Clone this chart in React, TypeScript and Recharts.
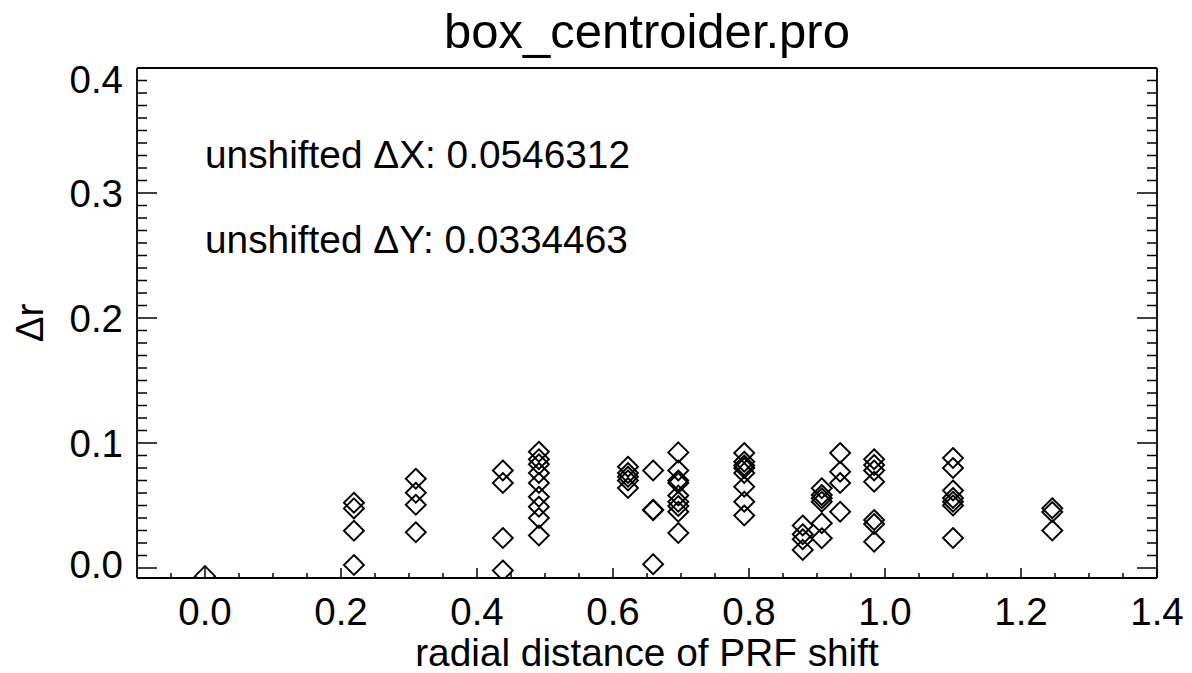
import React from 'react';
import { ScatterChart, Scatter, XAxis, YAxis } from 'recharts';

const FONT = '"Liberation Sans", Arial, Helvetica, sans-serif';

// ---- text ----
const titleText = 'box_centroider.pro';
const xTitle = 'radial distance of PRF shift';
const yTitle = 'Δr';
const noteLines = ['unshifted ΔX: 0.0546312', 'unshifted ΔY: 0.0334463'];

// ---- ticks ----
const xDomain = [-0.1, 1.4];
const yDomain = [-0.008, 0.4];
const xMajorStep = 0.2;
const yMajorStep = 0.1;
const xTicks = [
  -0.05, 0.0, 0.05, 0.1, 0.15, 0.2, 0.25, 0.3, 0.35, 0.4, 0.45, 0.5, 0.55, 0.6, 0.65,
  0.7, 0.75, 0.8, 0.85, 0.9, 0.95, 1.0, 1.05, 1.1, 1.15, 1.2, 1.25, 1.3, 1.35, 1.4,
];
const yTicks = [
  0.0, 0.01, 0.02, 0.03, 0.04, 0.05, 0.06, 0.07, 0.08, 0.09, 0.1, 0.11, 0.12, 0.13,
  0.14, 0.15, 0.16, 0.17, 0.18, 0.19, 0.2, 0.21, 0.22, 0.23, 0.24, 0.25, 0.26, 0.27,
  0.28, 0.29, 0.3, 0.31, 0.32, 0.33, 0.34, 0.35, 0.36, 0.37, 0.38, 0.39, 0.4,
];

// ---- data: radial distance of PRF shift, and delta r values at each distance ----
const shiftDistance = [
  0.0, 0.219, 0.31, 0.438, 0.491, 0.622, 0.659, 0.696, 0.793, 0.879, 0.907, 0.934,
  0.984, 1.1, 1.246,
];
const dr00 = [-0.0065];
const dr01 = [0.0522, 0.0477, 0.0298, 0.0024];
const dr02 = [0.0714, 0.0602, 0.0506, 0.0286];
const dr03 = [0.078, 0.068, 0.024, -0.002];
const dr04 = [0.093, 0.087, 0.083, 0.076, 0.068, 0.057, 0.049, 0.04, 0.026];
const dr05 = [0.081, 0.076, 0.073, 0.07, 0.064];
const dr06 = [0.078, 0.0466, 0.0462, 0.003];
const dr07 = [0.0925, 0.078, 0.07, 0.068, 0.058, 0.053, 0.0496, 0.045, 0.028];
const dr08 = [0.092, 0.085, 0.082, 0.08, 0.076, 0.065, 0.053, 0.042];
const dr09 = [0.034, 0.027, 0.023, 0.0145];
const dr10 = [0.0638, 0.0584, 0.0558, 0.053, 0.0358, 0.0238];
const dr11 = [0.092, 0.077, 0.068, 0.045];
const dr12 = [0.087, 0.0824, 0.078, 0.069, 0.0384, 0.0352, 0.021];
const dr13 = [0.088, 0.08, 0.062, 0.056, 0.053, 0.05, 0.024];
const dr14 = [0.0478, 0.0448, 0.03];

const deltaR = [dr00, dr01, dr02, dr03, dr04, dr05, dr06, dr07, dr08, dr09, dr10, dr11, dr12, dr13, dr14];

const points = shiftDistance.flatMap((x, i) => deltaR[i].map((y) => ({ x, y })));

const isMajor = (v: number, step: number) => Math.abs(v / step - Math.round(v / step)) < 1e-6;

const STROKE = '#000';

function BottomTick(props: any) {
  const { x, y, payload } = props;
  const v = payload.value as number;
  const major = isMajor(v, xMajorStep);
  return (
    <g>
      <line x1={x} y1={y} x2={x} y2={y - (major ? 10 : 5)} stroke={STROKE} strokeWidth={1.5} />
      {major && (
        <text x={x} y={y + 47} textAnchor="middle" fontSize={38.5} fontFamily={FONT} fill="#000">
          {v.toFixed(1)}
        </text>
      )}
    </g>
  );
}

function TopTick(props: any) {
  const { x, y, payload } = props;
  const v = payload.value as number;
  const major = isMajor(v, xMajorStep);
  return <line x1={x} y1={y} x2={x} y2={y + (major ? 10 : 5)} stroke={STROKE} strokeWidth={1.5} />;
}

function LeftTick(props: any) {
  const { x, y, payload } = props;
  const v = payload.value as number;
  const major = isMajor(v, yMajorStep);
  let dy = 13.5;
  if (Math.abs(v - 0.4) < 1e-9) dy = 25;
  if (Math.abs(v) < 1e-9) dy = 9.5;
  return (
    <g>
      <line x1={x} y1={y} x2={x + (major ? 20 : 10)} y2={y} stroke={STROKE} strokeWidth={1.5} />
      {major && (
        <text x={x - 14} y={y + dy} textAnchor="end" fontSize={38.5} fontFamily={FONT} fill="#000">
          {v.toFixed(1)}
        </text>
      )}
    </g>
  );
}

function RightTick(props: any) {
  const { x, y, payload } = props;
  const v = payload.value as number;
  const major = isMajor(v, yMajorStep);
  return <line x1={x} y1={y} x2={x - (major ? 20 : 10)} y2={y} stroke={STROKE} strokeWidth={1.5} />;
}

function Diamond(props: any) {
  const { cx, cy } = props;
  if (cx == null || cy == null) return null;
  const r = 10;
  return (
    <path
      d={`M${cx},${cy - r}L${cx + r},${cy}L${cx},${cy + r}L${cx - r},${cy}Z`}
      fill="none"
      stroke={STROKE}
      strokeWidth={1.9}
    />
  );
}

const axisLine = { stroke: STROKE, strokeWidth: 1.8 };

export default function App() {
  return (
    <div
      style={{
        position: 'fixed',
        top: 0,
        left: 0,
        width: 1192,
        height: 673,
        background: '#fff',
        overflow: 'hidden',
      }}
    >
      <ScatterChart width={1192} height={673} margin={{ top: 48, right: 15, bottom: 35, left: 37 }}>
        <XAxis
          xAxisId="bottom"
          dataKey="x"
          type="number"
          orientation="bottom"
          domain={xDomain}
          ticks={xTicks}
          interval={0}
          tickSize={0}
          tickMargin={0}
          tickLine={false}
          tick={<BottomTick />}
          axisLine={axisLine}
          height={60}
          allowDataOverflow
          label={{
            value: xTitle,
            position: 'bottom',
            offset: 0,
            fontSize: 38.8,
            fontFamily: FONT,
            fill: '#000',
          }}
        />
        <XAxis
          xAxisId="top"
          type="number"
          orientation="top"
          domain={xDomain}
          ticks={xTicks}
          interval={0}
          tickSize={0}
          tickMargin={0}
          tickLine={false}
          tick={<TopTick />}
          axisLine={axisLine}
          height={20}
          allowDataOverflow
        />
        <YAxis
          yAxisId="left"
          dataKey="y"
          type="number"
          orientation="left"
          domain={yDomain}
          ticks={yTicks}
          interval={0}
          tickSize={0}
          tickMargin={0}
          tickLine={false}
          tick={<LeftTick />}
          axisLine={axisLine}
          width={100}
          allowDataOverflow
        />
        <YAxis
          yAxisId="right"
          type="number"
          orientation="right"
          domain={yDomain}
          ticks={yTicks}
          interval={0}
          tickSize={0}
          tickMargin={0}
          tickLine={false}
          tick={<RightTick />}
          axisLine={axisLine}
          width={20}
          allowDataOverflow
        />
        <Scatter
          data={points}
          xAxisId="bottom"
          yAxisId="left"
          shape={<Diamond />}
          isAnimationActive={false}
        />
      </ScatterChart>
      <svg
        width={1192}
        height={673}
        style={{ position: 'absolute', top: 0, left: 0, pointerEvents: 'none' }}
      >
        <text x={647} y={48} textAnchor="middle" fontSize={49} fontFamily={FONT} fill="#000">
          {titleText}
        </text>
        <text
          x={43}
          y={323}
          textAnchor="middle"
          fontSize={38.5}
          fontFamily={FONT}
          fill="#000"
          transform="rotate(-90 43 323)"
        >
          {yTitle}
        </text>
        <text x={205} y={168} fontSize={38.8} fontFamily={FONT} fill="#000">
          {noteLines[0]}
        </text>
        <text x={205} y={253} fontSize={38.8} fontFamily={FONT} fill="#000">
          {noteLines[1]}
        </text>
      </svg>
    </div>
  );
}
